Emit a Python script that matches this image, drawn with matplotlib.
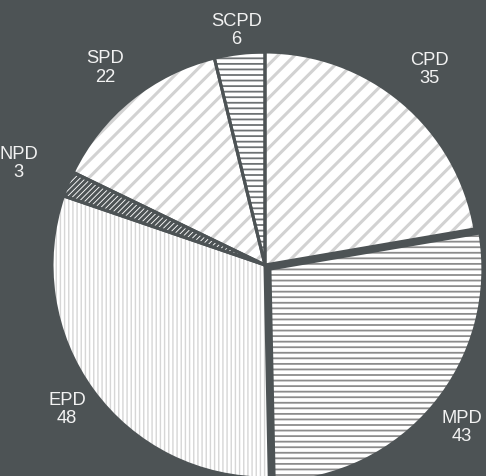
import matplotlib
matplotlib.use("Agg")
import matplotlib.pyplot as plt
import numpy as np

labels = ["CPD", "MPD", "EPD", "NPD", "SPD", "SCPD"]
counts = [35, 43, 48, 3, 22, 6]
explode = [0, 0.03, 0, 0, 0, 0]
hatches = ["//", "---", "||||", "//////", "//", "---"]
hatch_colors = ["#d2d2d2", "#8c8c8c", "#d6d6d6", "#4d5355", "#d2d2d2", "#6e7274"]
hatch_widths = [2.2, 1.3, 1.0, 2.2, 2.2, 1.3]
label_dist = [1.20, 1.17, 1.15, 1.25, 1.19, 1.11]

bg = "#4d5355"

fig = plt.figure(figsize=(4.86, 4.76), dpi=100, facecolor=bg)
ax = fig.add_axes([0, 0, 1, 1])
ax.set_facecolor(bg)
ax.axis("off")

# hatched fill layer
wedges, _ = ax.pie(counts, explode=explode, startangle=90, counterclock=False,
                   wedgeprops=dict(facecolor="white", linewidth=0))
for w, h, c, lw in zip(wedges, hatches, hatch_colors, hatch_widths):
    w.set_edgecolor(c)
    w.set_hatch(h)
    if hasattr(w, "set_hatch_linewidth"):
        w.set_hatch_linewidth(lw)

# outline layer
ax.pie(counts, explode=explode, startangle=90, counterclock=False,
       wedgeprops=dict(fill=False, edgecolor=bg, linewidth=2.2))

# labels outside each slice
for w, name, v, d in zip(wedges, labels, counts, label_dist):
    mid = np.deg2rad((w.theta1 + w.theta2) / 2)
    cx, cy = w.center
    ax.text(cx + d * w.r * np.cos(mid), cy + d * w.r * np.sin(mid), f"{name}\n{v}",
            color="#f2f2f2", fontsize=13.2, family="Liberation Sans",
            ha="center", va="center", linespacing=1.1)

ax.set_xlim(-265 / 213, (486 - 265) / 213)
ax.set_ylim(-(476 - 265) / 213, 265 / 213)
ax.set_aspect("equal")

fig.savefig("out.png", dpi=100, facecolor=bg)
